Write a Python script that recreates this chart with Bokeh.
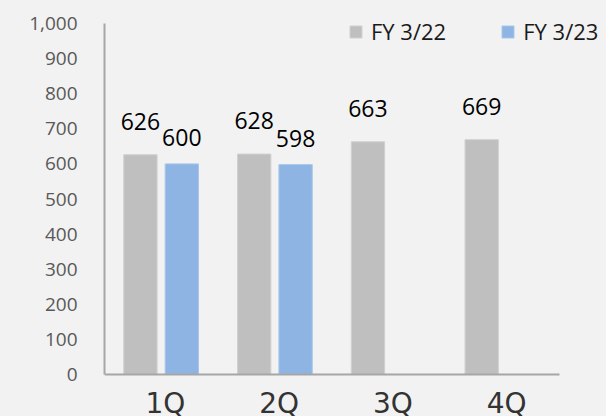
from bokeh.plotting import figure
from bokeh.models import (ColumnDataSource, Range1d, LabelSet, Legend,
                          LegendItem, NumeralTickFormatter, FixedTicker)
from bokeh.core.properties import value
from bokeh.transform import dodge
from bokeh.embed import file_html
from bokeh.resources import INLINE

# ---- data ----
quarters = ["1Q", "2Q", "3Q", "4Q"]
fy22 = [626, 628, 663, 669]
fy23_quarters = ["1Q", "2Q"]
fy23 = [600, 598]
y_ticks = [0, 100, 200, 300, 400, 500, 600, 700, 800, 900, 1000]
series_names = ["FY 3/22", "FY 3/23"]

# category slot centres on a numeric scale (slot i spans i..i+1)
xc = {q: i + 0.5 for i, q in enumerate(quarters)}

src22 = ColumnDataSource(dict(x=[xc[q] for q in quarters], v=fy22, lbl=[str(v) for v in fy22]))
src23 = ColumnDataSource(dict(x=[xc[q] for q in fy23_quarters], v=fy23, lbl=[str(v) for v in fy23]))
src_cat = ColumnDataSource(dict(x=[xc[q] for q in quarters], y=[0] * len(quarters), q=quarters))
src_axis = ColumnDataSource(dict(x0=[0], x1=[len(quarters)], y0=[0], y1=[0]))

BG = "#f2f2f2"
GRAY = "#bfbfbf"
BLUE = "#8eb4e3"
AXIS = "#a6a6a6"
FONT = "Open Sans"

# frame spans x 104..606, y 23..416 px; 0..1000 maps to 374..23 px
p = figure(x_range=Range1d(0, len(quarters) + 47 / 113.75),
           y_range=Range1d(-1000 * 42 / 351, 1000),
           width=606, height=416, output_backend="svg", toolbar_location=None,
           x_axis_location=None,
           min_border_left=104, min_border_right=0, min_border_top=23, min_border_bottom=0)
p.background_fill_color = BG
p.border_fill_color = BG
p.outline_line_color = None
p.xgrid.visible = False
p.ygrid.visible = False

r22 = p.vbar(x=dodge("x", -0.184), top="v", width=0.293, source=src22,
             fill_color=GRAY, line_color="#d0d0d0", line_width=1)
r23 = p.vbar(x=dodge("x", 0.18), top="v", width=0.293, source=src23,
             fill_color=BLUE, line_color="#a9c6ea", line_width=1)

# x axis line
p.segment(x0="x0", x1="x1", y0="y0", y1="y1", source=src_axis,
          line_color=AXIS, line_width=2)

# data labels
lab22 = LabelSet(x=dodge("x", -0.184), y="v", text="lbl", source=src22,
                 text_align="center", text_baseline="alphabetic", y_offset=25,
                 text_font=value(FONT), text_font_size=value("23px"), text_color="#000000")
lab23 = LabelSet(x=dodge("x", 0.18), y="v", text="lbl", source=src23,
                 text_align="center", text_baseline="alphabetic", y_offset=18,
                 text_font=value(FONT), text_font_size=value("23px"), text_color="#000000")
p.add_layout(lab22)
p.add_layout(lab23)

# category labels
catlab = LabelSet(x="x", y="y", text="q", source=src_cat, text_align="center",
                  text_baseline="alphabetic", y_offset=-38, x_offset=4,
                  text_font=value("DejaVu Sans"), text_font_size=value("28px"),
                  text_color="#333333")
p.add_layout(catlab)

# y axis
yax = p.yaxis[0]
yax.bounds = (0, 1000)
yax.ticker = FixedTicker(ticks=y_ticks)
yax.formatter = NumeralTickFormatter(format="0,0")
yax.major_label_text_font = FONT
yax.major_label_text_font_size = "19px"
yax.major_label_text_color = "#595959"
yax.major_label_standoff = 27
yax.axis_line_color = AXIS
yax.axis_line_width = 2
yax.major_tick_out = 0
yax.major_tick_in = 0
yax.minor_tick_out = 0
yax.minor_tick_in = 0

legend = Legend(items=[LegendItem(label=series_names[0], renderers=[r22]),
                       LegendItem(label=series_names[1], renderers=[r23])],
                orientation="horizontal", location=(244, 370),
                glyph_width=15, glyph_height=15, label_standoff=8, spacing=54,
                padding=0, margin=0, background_fill_alpha=0, border_line_color=None,
                label_text_font=FONT, label_text_font_size="22px",
                label_text_color="#1a1a1a", label_text_baseline="alphabetic")
p.add_layout(legend, "center")

html = file_html(p, INLINE)
html = html.replace("<body>", '<body style="background-color:#f2f2f2">')
open("out.html", "w").write(html)
